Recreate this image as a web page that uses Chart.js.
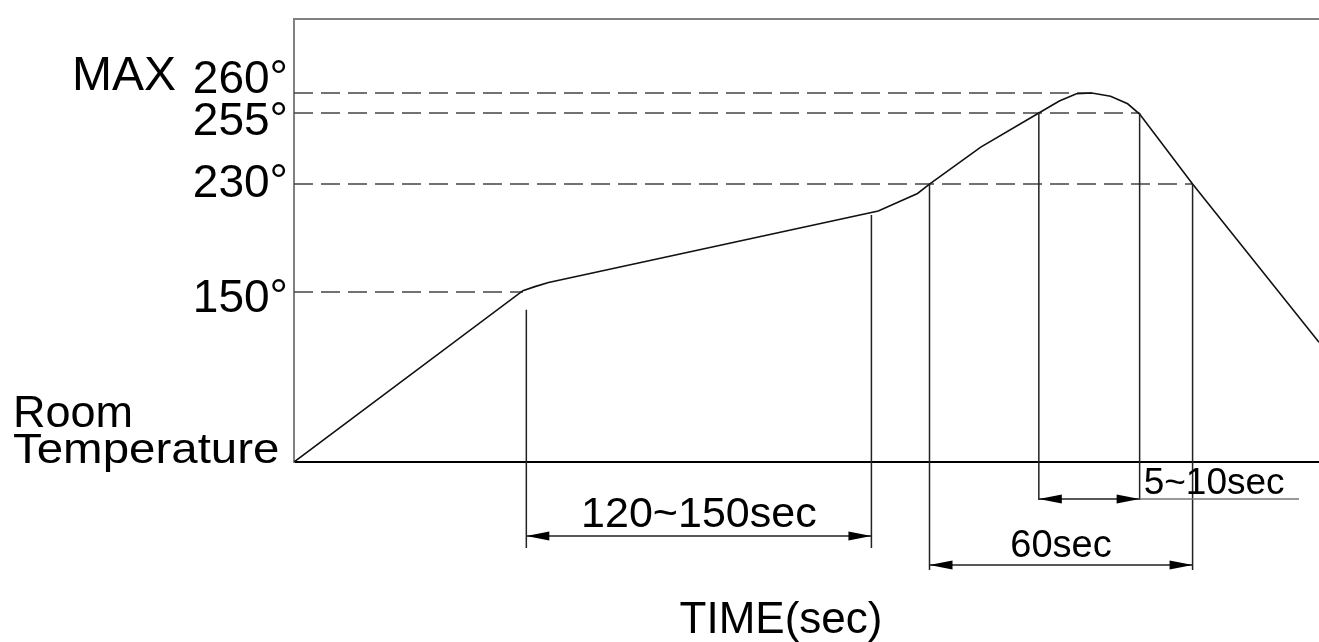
<!DOCTYPE html>
<html>
<head>
<meta charset="utf-8">
<script src="https://cdn.jsdelivr.net/npm/chart.js@4.4.1/dist/chart.umd.min.js"></script>
<style>
  html, body { margin: 0; padding: 0; background: #fff; }
  #wrap { width: 1319px; height: 642px; }
</style>
</head>
<body>
<div id="wrap"><canvas id="profile-chart"></canvas></div>
<script>
// reflow profile (schematic time axis, seconds)
const profileTime = [0, 67, 70.5, 74.5, 171, 182.5, 186, 201, 218, 224, 229, 233.5, 239, 244, 247.5, 263, 300];
const profileTemp = [25, 151, 154, 157, 210, 223, 230, 243, 255, 258, 259.8, 260, 259.2, 257.3, 254.6, 230, 113];

// dashed reference levels and where each one meets the curve
const refTemps = [150, 230, 255, 260];
const refLabels = ["150°", "230°", "255°", "260°"];
const refEnds = [67, 263, 247.5, 233.5];
const maxLabel = "MAX";
const roomLabel = ["Room", "Temperature"];
const roomTemp = 25;

// dimension spans
const spanFrom = [68, 186, 218];
const spanTo = [169, 263, 247.5];
const spanFromTemp = [137, 230, 255];
const spanToTemp = [207, 230, 255];
const spanLabels = ["120~150sec", "60sec", "5~10sec"];
const timeTitle = "TIME(sec)";

const FONT = '"Liberation Sans", Arial, sans-serif';

// y axis of the drawing is not linear, so map temperature piece by piece
class PiecewiseScale extends Chart.LinearScale {
  static id = "piecewise";
  static defaults = Chart.LinearScale.defaults;

  toDecimal(v) {
    const s = this.options.stops;
    if (v <= s[0][0]) {
      const k = (s[1][1] - s[0][1]) / (s[1][0] - s[0][0]);
      return s[0][1] + (v - s[0][0]) * k;
    }
    for (let i = 1; i < s.length; i++) {
      if (v <= s[i][0] || i === s.length - 1) {
        const k = (s[i][1] - s[i - 1][1]) / (s[i][0] - s[i - 1][0]);
        return s[i - 1][1] + (v - s[i - 1][0]) * k;
      }
    }
  }

  fromDecimal(d) {
    const s = this.options.stops;
    for (let i = 1; i < s.length; i++) {
      if (d <= s[i][1] || i === s.length - 1) {
        const k = (s[i][0] - s[i - 1][0]) / (s[i][1] - s[i - 1][1]);
        return s[i - 1][0] + (d - s[i - 1][1]) * k;
      }
    }
  }

  getPixelForValue(v) {
    return v === null ? NaN : this.getPixelForDecimal(this.toDecimal(v));
  }

  getValueForPixel(p) {
    return this.fromDecimal(this.getDecimalForPixel(p));
  }
}
Chart.register(PiecewiseScale);

function putText(ctx, text, x, y, size, align, sx) {
  ctx.save();
  ctx.font = size + "px " + FONT;
  ctx.fillStyle = "#000";
  ctx.textAlign = align;
  ctx.textBaseline = "alphabetic";
  ctx.translate(x, y);
  ctx.scale(sx || 1, 1);
  ctx.fillText(text, 0, 0);
  ctx.restore();
}

function arrowHead(ctx, x, y, dir) {
  ctx.beginPath();
  ctx.moveTo(x, y);
  ctx.lineTo(x + dir * 23, y - 4.5);
  ctx.lineTo(x + dir * 23, y + 4.5);
  ctx.closePath();
  ctx.fill();
}

// where each dimension row sits under the axis
const spanRows = [
  { arrowY: 536, bottom: 548, textY: 527, size: 43 },
  { arrowY: 565, bottom: 570, textY: 557, size: 38 },
  { arrowY: 499, bottom: 500, textY: 494, size: 37, underline: 1299 },
];
const labelNudge = [20, 13, 22, 0];

const annotations = {
  id: "annotations",
  afterDraw(chart) {
    const { ctx, chartArea } = chart;
    const xs = chart.scales.x;
    const ys = chart.scales.y;

    // temperature labels
    refTemps.forEach((t, i) => {
      putText(ctx, refLabels[i], chartArea.left - 6, ys.getPixelForValue(t) + labelNudge[i], 46, "right");
    });
    putText(ctx, maxLabel, 176, ys.getPixelForValue(260) - 3, 48, "right");
    const roomY = ys.getPixelForValue(roomTemp);
    putText(ctx, roomLabel[0], 13, roomY - 35, 45, "left");
    putText(ctx, roomLabel[1], 13, roomY + 1, 42, "left", 1.13);

    // dimension lines
    ctx.save();
    ctx.strokeStyle = "#222";
    ctx.fillStyle = "#000";
    ctx.lineWidth = 1.5;
    spanFrom.forEach((from, i) => {
      const row = spanRows[i];
      const x1 = xs.getPixelForValue(from);
      const x2 = xs.getPixelForValue(spanTo[i]);
      ctx.beginPath();
      ctx.moveTo(x1, ys.getPixelForValue(spanFromTemp[i]));
      ctx.lineTo(x1, row.bottom);
      ctx.moveTo(x2, ys.getPixelForValue(spanToTemp[i]));
      ctx.lineTo(x2, row.bottom);
      ctx.moveTo(x1, row.arrowY);
      ctx.lineTo(x2, row.arrowY);
      ctx.stroke();
      arrowHead(ctx, x1, row.arrowY, 1);
      arrowHead(ctx, x2, row.arrowY, -1);
      if (row.underline) {
        ctx.beginPath();
        ctx.strokeStyle = "#777";
        ctx.moveTo(x2, row.arrowY);
        ctx.lineTo(row.underline, row.arrowY);
        ctx.stroke();
        ctx.strokeStyle = "#222";
        putText(ctx, spanLabels[i], x2 + 4, row.textY, row.size, "left");
      } else {
        putText(ctx, spanLabels[i], (x1 + x2) / 2, row.textY, row.size, "center");
      }
    });
    ctx.restore();

    putText(ctx, timeTitle, 781, 633, 44, "center");
  },
};

const profileChart = new Chart(document.getElementById("profile-chart"), {
  type: "line",
  data: {
    datasets: [
      {
        label: "Profile",
        data: profileTime.map((t, i) => ({ x: t, y: profileTemp[i] })),
        borderColor: "#111",
        borderWidth: 1.6,
        pointRadius: 0,
        tension: 0,
      },
      ...refTemps.map((t, i) => ({
        label: refLabels[i],
        data: [
          { x: 0, y: t },
          { x: refEnds[i], y: t },
        ],
        borderColor: "#444",
        borderWidth: 1.5,
        borderDash: [19, 8],
        pointRadius: 0,
      })),
    ],
  },
  options: {
    responsive: true,
    maintainAspectRatio: false,
    animation: false,
    layout: { padding: { left: 294, top: 19, right: 0, bottom: 180 } },
    plugins: {
      legend: { display: false },
      tooltip: { enabled: false },
    },
    scales: {
      x: {
        type: "linear",
        min: 0,
        max: 300,
        ticks: { display: false },
        grid: { display: false, drawTicks: false },
        border: { color: "#000", width: 2 },
      },
      xTop: {
        type: "linear",
        position: "top",
        min: 0,
        max: 300,
        ticks: { display: false },
        grid: { display: false, drawTicks: false },
        border: { color: "#808080", width: 2 },
      },
      y: {
        type: "piecewise",
        min: 25,
        max: 280,
        stops: [[25, 0], [150, 0.3837], [230, 0.6275], [255, 0.7878], [260, 0.833], [280, 1]],
        ticks: { display: false },
        grid: { display: false, drawTicks: false },
        border: { color: "#808080", width: 2 },
      },
    },
  },
  plugins: [annotations],
});
</script>
</body>
</html>
